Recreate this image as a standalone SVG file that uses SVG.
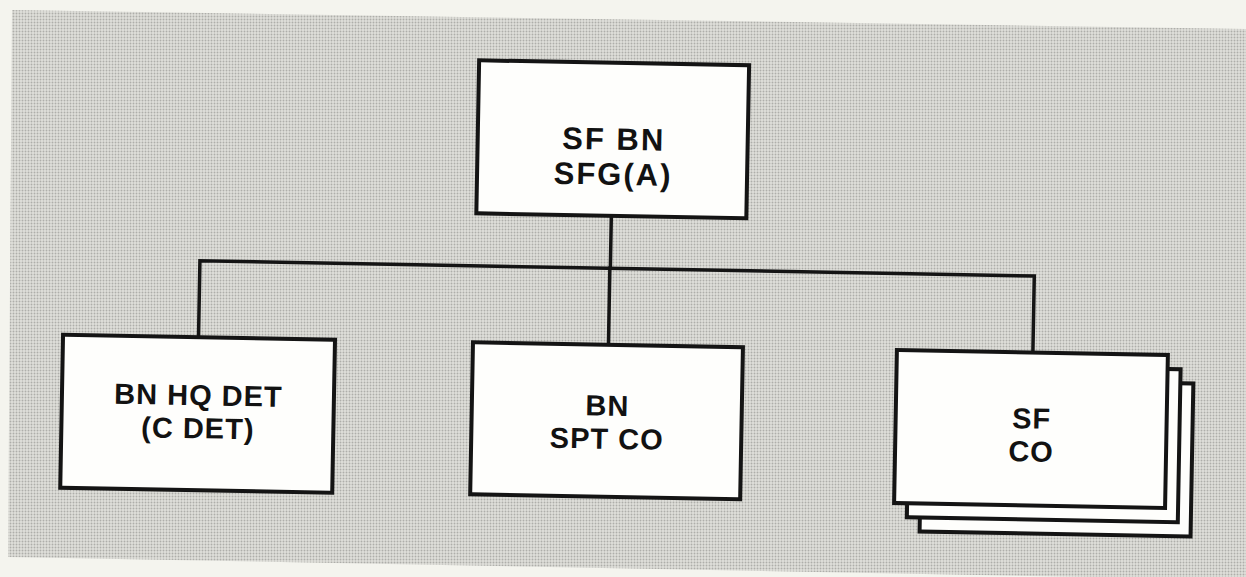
<svg xmlns="http://www.w3.org/2000/svg" width="1246" height="577" viewBox="0 0 1246 577">
  <style>
    .box { fill: #fefefc; stroke: #141414; stroke-width: 4; }
    .conn { fill: none; stroke: #141414; stroke-width: 3.5; stroke-linejoin: miter; stroke-linecap: square; }
    .lbl { font-family: "Liberation Sans", Arial, sans-serif; font-weight: bold; font-size: 29px; letter-spacing: 1px; fill: #121212; text-anchor: middle; }
    .big { font-size: 31px; letter-spacing: 2px; }
  </style>
  <defs>
    <pattern id="halftone" width="3" height="3" patternUnits="userSpaceOnUse">
      <rect width="3" height="3" fill="#e0e0db"/>
      <circle cx="1.5" cy="1.5" r="0.95" fill="#aeaeaa"/>
    </pattern>
  </defs>
  <rect width="1246" height="577" fill="#f4f4ee"/>
  <polygon points="12,10 1246,29 1246,577 1089,577 8,557" fill="url(#halftone)"/>
  <g transform="rotate(1.05 623 288)">
    <g id="connectors">
      <path class="conn" d="M610,216 V268.5"/>
      <path class="conn" d="M199.5,345 V268.5 H1034 V345"/>
      <path class="conn" d="M609.5,268.5 V345"/>
    </g>
    <g id="sf-bn">
      <rect class="box" x="475" y="63" width="270" height="153"/>
      <text class="lbl big" x="611" y="150">SF BN</text>
      <text class="lbl big" x="611" y="185">SFG(A)</text>
    </g>
    <g id="bn-hq-det">
      <rect class="box" x="64" y="345" width="272" height="153"/>
      <text class="lbl" x="200.5" y="413">BN HQ DET</text>
      <text class="lbl" x="200.5" y="446">(C DET)</text>
    </g>
    <g id="bn-spt-co">
      <rect class="box" x="474" y="345" width="270" height="152"/>
      <text class="lbl" x="609.5" y="416">BN</text>
      <text class="lbl" x="609.5" y="449">SPT CO</text>
    </g>
    <g id="sf-co">
      <rect class="box" x="924" y="373" width="271" height="153"/>
      <rect class="box" x="911" y="359" width="271" height="153"/>
      <rect class="box" x="898" y="345" width="271" height="153"/>
      <text class="lbl" x="1034" y="421">SF</text>
      <text class="lbl" x="1034" y="454">CO</text>
    </g>
  </g>
</svg>
